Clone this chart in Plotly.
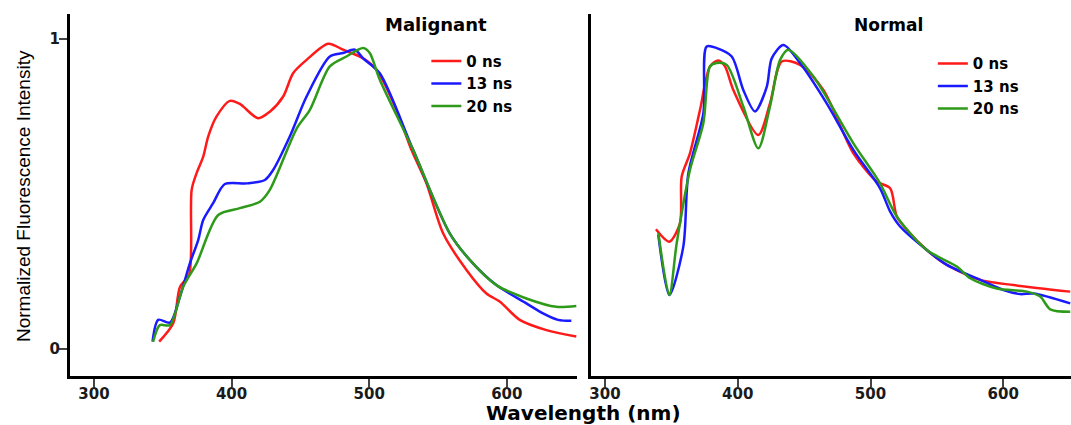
import plotly.graph_objects as go
from plotly.subplots import make_subplots

# ---- Malignant panel data ----
mal_0_x = [347.4, 357.6, 362.5, 369.2, 371.0, 374.6, 379.4, 383.0, 389.1, 398.8, 406.0, 419.3, 427.8, 437.5, 444.7, 454.5, 470.2, 481.0, 495.6, 505.3, 519.8, 530.7, 541.6, 553.7, 570.7, 585.2, 594.8, 609.4, 628.8, 650.5]
mal_0_y = [0.024, 0.083, 0.20, 0.24, 0.513, 0.567, 0.62, 0.685, 0.75, 0.80, 0.79, 0.744, 0.765, 0.814, 0.889, 0.932, 0.984, 0.965, 0.937, 0.90, 0.771, 0.642, 0.534, 0.373, 0.255, 0.179, 0.153, 0.094, 0.061, 0.040]

mal_13_x = [342.6, 346.7, 355.2, 362.5, 369.7, 375.8, 379.4, 386.6, 395.1, 410.9, 424.2, 430.2, 442.3, 454.5, 471.4, 481.0, 489.5, 495.6, 507.7, 531.9, 558.5, 575.4, 592.4, 614.2, 626.3, 637.2, 646.9]
mal_13_y = [0.024, 0.094, 0.085, 0.169, 0.276, 0.352, 0.416, 0.47, 0.532, 0.534, 0.545, 0.577, 0.685, 0.814, 0.943, 0.954, 0.965, 0.937, 0.889, 0.642, 0.373, 0.276, 0.206, 0.147, 0.115, 0.094, 0.091]

mal_20_x = [343.0, 347.9, 355.2, 364.8, 374.6, 390.3, 406.0, 420.6, 427.8, 447.2, 456.9, 471.4, 483.5, 495.6, 500.4, 507.7, 531.9, 558.5, 575.4, 592.4, 614.2, 636.0, 650.5]
mal_20_y = [0.024, 0.077, 0.077, 0.20, 0.276, 0.432, 0.454, 0.475, 0.513, 0.71, 0.771, 0.911, 0.943, 0.97, 0.954, 0.868, 0.642, 0.373, 0.276, 0.206, 0.163, 0.136, 0.139]

# ---- Normal panel data ----
nor_0_x = [338.4, 348.5, 356.5, 357.8, 364.0, 371.6, 379.1, 385.4, 390.4, 396.7, 415.5, 424.3, 433.2, 446.9, 464.5, 487.1, 504.7, 514.8, 519.8, 527.4, 542.4, 557.5, 582.6, 607.7, 650.4]
nor_0_y = [0.386, 0.346, 0.405, 0.556, 0.631, 0.771, 0.911, 0.93, 0.911, 0.835, 0.69, 0.792, 0.927, 0.916, 0.835, 0.631, 0.54, 0.518, 0.427, 0.384, 0.319, 0.271, 0.223, 0.206, 0.185]

nor_13_x = [340.2, 348.5, 359.0, 362.8, 374.1, 376.6, 384.2, 395.5, 404.2, 413.0, 421.9, 425.6, 434.4, 446.9, 467.0, 487.1, 507.2, 514.8, 522.3, 542.4, 557.5, 582.6, 600.2, 612.7, 622.8, 650.4]
nor_13_y = [0.368, 0.174, 0.33, 0.566, 0.76, 0.975, 0.97, 0.943, 0.835, 0.766, 0.846, 0.937, 0.98, 0.922, 0.792, 0.642, 0.518, 0.443, 0.395, 0.319, 0.271, 0.223, 0.19, 0.177, 0.179, 0.147]

nor_20_x = [340.2, 348.5, 354.0, 364.0, 374.1, 379.1, 384.2, 391.7, 404.2, 415.5, 424.3, 431.9, 438.1, 456.9, 487.1, 507.2, 519.8, 542.4, 565.0, 575.1, 595.1, 617.8, 627.8, 635.4, 650.4]
nor_20_y = [0.374, 0.174, 0.34, 0.577, 0.728, 0.911, 0.922, 0.916, 0.782, 0.647, 0.782, 0.932, 0.965, 0.879, 0.663, 0.534, 0.427, 0.319, 0.266, 0.228, 0.195, 0.185, 0.169, 0.128, 0.12]

series_names = ["0 ns", "13 ns", "20 ns"]
colors = ["#ff1a1a", "#1a1aff", "#2e9a1a"]

x_ticks = [300, 400, 500, 600]
y_ticks = [0, 1]

fig = make_subplots(rows=1, cols=2, horizontal_spacing=0.014)

mal = [(mal_0_x, mal_0_y), (mal_13_x, mal_13_y), (mal_20_x, mal_20_y)]
nor = [(nor_0_x, nor_0_y), (nor_13_x, nor_13_y), (nor_20_x, nor_20_y)]

for i, (xs, ys) in enumerate(mal):
    fig.add_trace(go.Scatter(x=xs, y=ys, mode="lines", name=series_names[i],
                             line=dict(color=colors[i], width=2.5, shape="spline", smoothing=0.8),
                             legend="legend"), row=1, col=1)
for i, (xs, ys) in enumerate(nor):
    fig.add_trace(go.Scatter(x=xs, y=ys, mode="lines", name=series_names[i],
                             line=dict(color=colors[i], width=2.5, shape="spline", smoothing=0.8),
                             legend="legend2"), row=1, col=2)

tickfont = dict(family="DejaVu Sans", size=15, color="#1a1a1a", weight="bold")
legfont = dict(family="DejaVu Sans", size=15, color="black", weight="bold")
fig.update_layout(
    width=1071, height=425, autosize=False,
    margin=dict(l=70, r=0, t=14, b=49),
    plot_bgcolor="white", paper_bgcolor="white",
    font=dict(family="Open Sans", color="black"),
    xaxis=dict(domain=[0.0, 0.5065]),
    xaxis2=dict(domain=[0.5205, 1.0]),
    legend=dict(x=0.356, y=0.915, xanchor="left", yanchor="top",
                font=legfont, bgcolor="rgba(0,0,0,0)", tracegroupgap=0),
    legend2=dict(x=0.862, y=0.908, xanchor="left", yanchor="top",
                 font=legfont, bgcolor="rgba(0,0,0,0)", tracegroupgap=0),
)

fig.update_xaxes(range=[282.6, 651], tickvals=x_ticks, ticks="outside", ticklen=8, tickwidth=2,
                 showline=True, linewidth=3, linecolor="black", showgrid=False, zeroline=False,
                 tickfont=tickfont, automargin=False, ticklabelstandoff=-6, row=1, col=1)
fig.update_xaxes(range=[289.5, 651], tickvals=x_ticks, ticks="outside", ticklen=8, tickwidth=2,
                 showline=True, linewidth=3, linecolor="black", showgrid=False, zeroline=False,
                 tickfont=tickfont, automargin=False, ticklabelstandoff=-6, row=1, col=2)
fig.update_yaxes(range=[-0.087, 1.08], tickvals=y_ticks, ticks="outside", ticklen=8, tickwidth=2,
                 showline=True, linewidth=3, linecolor="black", showgrid=False, zeroline=False,
                 tickfont=tickfont, automargin=False, ticklabelstandoff=-4, row=1, col=1)
fig.update_yaxes(range=[-0.087, 1.08], showticklabels=False, ticks="",
                 showline=True, linewidth=3, linecolor="black", showgrid=False, zeroline=False,
                 automargin=False, row=1, col=2)

fig.add_annotation(text="Normalized Fluorescence Intensity", xref="paper", yref="paper",
                   x=-0.047, y=0.497, xanchor="center", yanchor="middle", textangle=-90,
                   showarrow=False,
                   font=dict(family="Liberation Sans Narrow, Liberation Sans", size=19, color="black"))
fig.add_annotation(text="Malignant", xref="paper", yref="paper", x=0.3656, y=0.970,
                   xanchor="center", yanchor="middle", showarrow=False,
                   font=dict(family="DejaVu Sans", size=18, color="black", weight="bold"))
fig.add_annotation(text="Normal", xref="paper", yref="paper", x=0.818, y=0.970,
                   xanchor="center", yanchor="middle", showarrow=False,
                   font=dict(family="DejaVu Sans", size=17, color="black", weight="bold"))
fig.add_annotation(text="Wavelength (nm)", xref="paper", yref="paper", x=0.513, y=-0.101,
                   xanchor="center", yanchor="middle", showarrow=False,
                   font=dict(family="DejaVu Sans", size=20, color="black", weight="bold"))

fig.write_html("out.html", config={"displayModeBar": False},
               post_script="document.body.style.margin='0';document.body.style.overflow='hidden';")
